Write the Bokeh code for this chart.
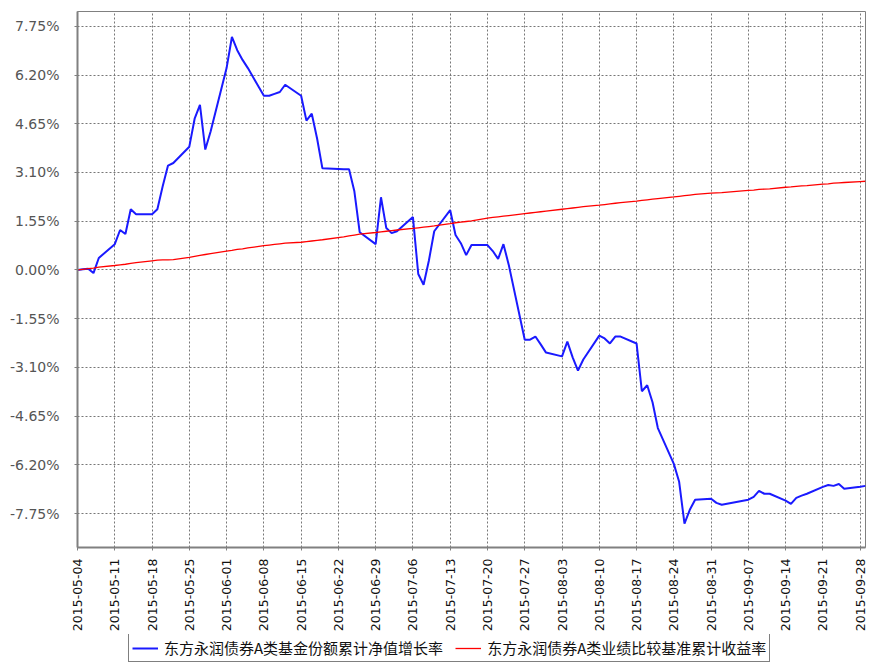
import math
import pandas as pd
from bokeh.plotting import figure
from bokeh.layouts import column
from bokeh.models import (FixedTicker, Legend, LegendItem, DatetimeTickFormatter,
                          PrintfTickFormatter, Range1d, ColumnDataSource)
from bokeh.embed import file_html
from bokeh.resources import INLINE

# ---------------- data ----------------
dates = [
    "2015-05-04", "2015-05-05", "2015-05-06", "2015-05-07", "2015-05-08",
    "2015-05-11", "2015-05-12", "2015-05-13", "2015-05-14", "2015-05-15",
    "2015-05-18", "2015-05-19", "2015-05-20", "2015-05-21", "2015-05-22",
    "2015-05-25", "2015-05-26", "2015-05-27", "2015-05-28", "2015-05-29",
    "2015-06-01", "2015-06-02", "2015-06-03", "2015-06-04", "2015-06-05",
    "2015-06-08", "2015-06-09", "2015-06-10", "2015-06-11", "2015-06-12",
    "2015-06-15", "2015-06-16", "2015-06-17", "2015-06-18", "2015-06-19",
    "2015-06-23", "2015-06-24", "2015-06-25", "2015-06-26",
    "2015-06-29", "2015-06-30", "2015-07-01", "2015-07-02", "2015-07-03",
    "2015-07-06", "2015-07-07", "2015-07-08", "2015-07-09", "2015-07-10",
    "2015-07-13", "2015-07-14", "2015-07-15", "2015-07-16", "2015-07-17",
    "2015-07-20", "2015-07-21", "2015-07-22", "2015-07-23", "2015-07-24",
    "2015-07-27", "2015-07-28", "2015-07-29", "2015-07-30", "2015-07-31",
    "2015-08-03", "2015-08-04", "2015-08-05", "2015-08-06", "2015-08-07",
    "2015-08-10", "2015-08-11", "2015-08-12", "2015-08-13", "2015-08-14",
    "2015-08-17", "2015-08-18", "2015-08-19", "2015-08-20", "2015-08-21",
    "2015-08-24", "2015-08-25", "2015-08-26", "2015-08-27", "2015-08-28",
    "2015-08-31", "2015-09-01", "2015-09-02",
    "2015-09-07", "2015-09-08", "2015-09-09", "2015-09-10", "2015-09-11",
    "2015-09-14", "2015-09-15", "2015-09-16", "2015-09-17", "2015-09-18",
    "2015-09-21", "2015-09-22", "2015-09-23", "2015-09-24", "2015-09-25",
    "2015-09-28", "2015-09-29",
]

nav_growth = [
    0.00, 0.02, 0.04, -0.10, 0.38,
    0.82, 1.27, 1.14, 1.93, 1.77,
    1.77, 1.93, 2.66, 3.32, 3.40,
    3.92, 4.81, 5.25, 3.83, 4.40,
    6.42, 7.41, 6.99, 6.68, 6.42,
    5.54, 5.54, 5.60, 5.66, 5.89,
    5.54, 4.75, 4.97, 4.18, 3.23,
    3.20, 3.20, 2.50, 1.20,
    0.82, 2.31, 1.33, 1.17, 1.23,
    1.68, -0.13, -0.47, 0.30, 1.23,
    1.90, 1.11, 0.85, 0.47, 0.79,
    0.79, 0.60, 0.35, 0.82, 0.16,
    -2.22, -2.22, -2.12, -2.37, -2.63,
    -2.75, -2.28, -2.78, -3.20, -2.85,
    -2.09, -2.18, -2.34, -2.12, -2.12,
    -2.34, -3.86, -3.67, -4.21, -5.03,
    -6.17, -6.74, -8.07, -7.63, -7.31,
    -7.28, -7.41, -7.47,
    -7.31, -7.22, -7.03, -7.12, -7.12,
    -7.34, -7.44, -7.25, -7.18, -7.12,
    -6.90, -6.84, -6.87, -6.81, -6.96,
    -6.90, -6.87,
]

benchmark = [
    0.00, 0.02, 0.04, 0.06, 0.09,
    0.14, 0.16, 0.18, 0.21, 0.23,
    0.29, 0.31, 0.32, 0.32, 0.33,
    0.40, 0.43, 0.46, 0.49, 0.52,
    0.60, 0.62, 0.65, 0.67, 0.70,
    0.77, 0.79, 0.81, 0.83, 0.85,
    0.88, 0.90, 0.92, 0.94, 0.96,
    1.05, 1.08, 1.11, 1.14,
    1.19, 1.21, 1.23, 1.25, 1.27,
    1.32, 1.34, 1.36, 1.38, 1.40,
    1.47, 1.50, 1.52, 1.54, 1.56,
    1.65, 1.67, 1.69, 1.71, 1.73,
    1.79, 1.81, 1.83, 1.85, 1.87,
    1.93, 1.95, 1.97, 1.99, 2.01,
    2.06, 2.08, 2.10, 2.12, 2.14,
    2.19, 2.21, 2.23, 2.25, 2.27,
    2.32, 2.34, 2.36, 2.38, 2.40,
    2.44, 2.45, 2.46,
    2.53, 2.54, 2.56, 2.57, 2.58,
    2.63, 2.64, 2.66, 2.67, 2.68,
    2.73, 2.74, 2.76, 2.77, 2.78,
    2.81, 2.82,
]

x_tick_labels = [
    "2015-05-04", "2015-05-11", "2015-05-18", "2015-05-25", "2015-06-01",
    "2015-06-08", "2015-06-15", "2015-06-22", "2015-06-29", "2015-07-06",
    "2015-07-13", "2015-07-20", "2015-07-27", "2015-08-03", "2015-08-10",
    "2015-08-17", "2015-08-24", "2015-08-31", "2015-09-07", "2015-09-14",
    "2015-09-21", "2015-09-28",
]
y_ticks = [-7.75, -6.20, -4.65, -3.10, -1.55, 0.00, 1.55, 3.10, 4.65, 6.20, 7.75]

series_names = ["东方永润债券A类基金份额累计净值增长率", "东方永润债券A类业绩比较基准累计收益率"]
series_colors = ["#1a1aff", "#ff0000"]
series_widths = [2, 1.3]

# ---------------- chart ----------------
src = ColumnDataSource(dict(date=pd.to_datetime(dates), nav=nav_growth, bench=benchmark))

x_ticks_ms = [pd.Timestamp(d).value // 10**6 for d in x_tick_labels]

p = figure(width=869, height=634, x_axis_type="datetime",
           output_backend="svg", toolbar_location=None,
           x_range=Range1d(pd.Timestamp(dates[0]), pd.Timestamp(dates[-1])),
           y_range=Range1d(-8.83, 8.22),
           min_border_left=77, min_border_right=4, min_border_top=11,
           min_border_bottom=86)

p.background_fill_color = "white"
p.border_fill_color = "white"
p.outline_line_color = "#808080"
p.outline_line_width = 1

p.line("date", "nav", source=src, line_color=series_colors[0], line_width=series_widths[0])
p.line("date", "bench", source=src, line_color=series_colors[1], line_width=series_widths[1])

# axes
p.xaxis.ticker = FixedTicker(ticks=x_ticks_ms)
fmt = "%Y-%m-%d"
p.xaxis.formatter = DatetimeTickFormatter(microseconds=fmt, milliseconds=fmt, seconds=fmt,
                                          minsec=fmt, minutes=fmt, hourmin=fmt, hours=fmt,
                                          days=fmt, months=fmt, years=fmt)
p.xaxis.major_label_orientation = math.pi / 2
p.xaxis.major_label_text_font = "DejaVu Sans"
p.xaxis.major_label_text_font_size = "12.5px"
p.xaxis.major_label_text_color = "#111111"
p.xaxis.major_label_standoff = 8

p.yaxis.ticker = FixedTicker(ticks=y_ticks)
p.yaxis.formatter = PrintfTickFormatter(format="%.2f%%")
p.yaxis.major_label_text_font = "DejaVu Sans"
p.yaxis.major_label_text_font_size = "14px"
p.yaxis.major_label_text_color = "#555555"
p.yaxis.major_label_standoff = 15

for ax in (p.xaxis, p.yaxis):
    ax.axis_line_color = "#808080"
    ax.axis_line_width = 2
    ax.major_tick_line_color = "#808080"
    ax.major_tick_out = 3
    ax.major_tick_in = 0
    ax.minor_tick_line_color = None

# grid
for g in (p.xgrid, p.ygrid):
    g.grid_line_color = "#777777"
    g.grid_line_dash = "2 2"
    g.grid_line_width = 1

# ---------------- legend strip ----------------
lp = figure(width=869, height=28, output_backend="svg", toolbar_location=None,
            x_range=Range1d(0, 1), y_range=Range1d(0, 1),
            x_axis_location=None, y_axis_location=None, min_border=0)
lp.grid.visible = False
lp.outline_line_color = None
lp.background_fill_color = "white"
lp.border_fill_color = "white"

# key lines: same series, outside this strip's visible ranges (only the legend shows)
key_renderers = [lp.line("date", col, source=src, line_color=c, line_width=w)
                 for col, c, w in zip(["nav", "bench"], series_colors, series_widths)]

legend = Legend(items=[LegendItem(label=n, renderers=[r])
                       for n, r in zip(series_names, key_renderers)],
                orientation="horizontal", location=(51, 0),
                label_text_font="Noto Sans CJK SC", label_text_font_size="15px",
                label_text_color="#111111",
                glyph_width=26, glyph_height=14, label_height=14,
                label_standoff=6, spacing=12, padding=3, margin=0,
                border_line_color="#000000", border_line_width=1,
                background_fill_color="white")
lp.add_layout(legend, "center")

open("out.html", "w").write(file_html(column(p, lp, spacing=0), INLINE))
